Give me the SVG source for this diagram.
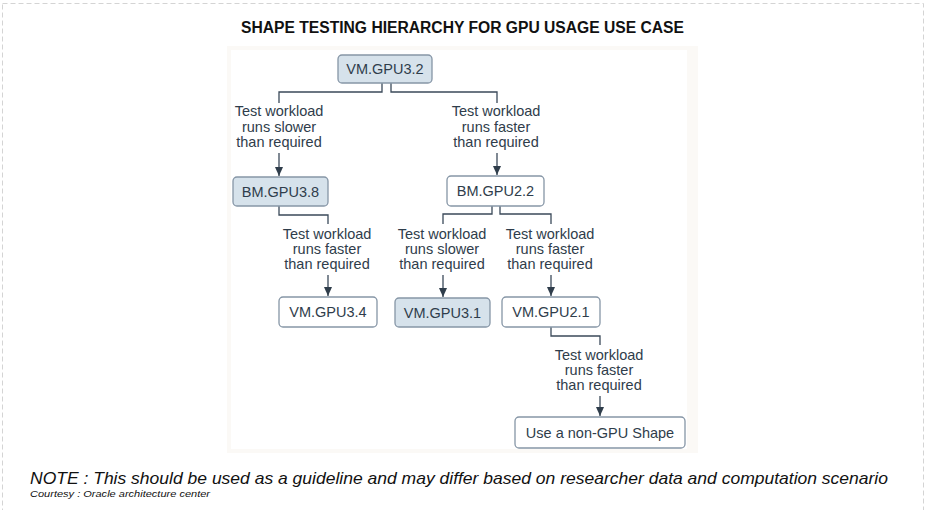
<svg xmlns="http://www.w3.org/2000/svg" width="926" height="510" viewBox="0 0 926 510">
  <style>
    .box { stroke: #8696a6; stroke-width: 1.3; }
    .blue { fill: #d6e2eb; }
    .white { fill: #ffffff; }
    .nt { font-family: "Liberation Sans", Arial, sans-serif; font-size: 14.5px; fill: #2f3d4b; text-anchor: middle; }
    .lbl { font-family: "Liberation Sans", Arial, sans-serif; font-size: 14.5px; fill: #2f3d4b; text-anchor: middle; }
    .conn { fill: none; stroke: #3b4a5a; stroke-width: 1.3; }
  </style>
  <defs>
    <marker id="arr" markerUnits="userSpaceOnUse" markerWidth="10" markerHeight="10" viewBox="0 0 10 10" refX="9" refY="5" orient="auto">
      <path d="M0,1 L9,5 L0,9 Z" fill="#2f3d4b"/>
    </marker>
  </defs>
  <rect x="0" y="0" width="926" height="510" fill="#ffffff"/>
  <rect x="2.5" y="3.5" width="921" height="530" fill="none" stroke="#d4d4d4" stroke-width="1" stroke-dasharray="5,3"/>
  <text x="241" y="33" font-family="'Liberation Sans', Arial, sans-serif" font-size="16" font-weight="bold" fill="#111111" textLength="443" lengthAdjust="spacingAndGlyphs">SHAPE TESTING HIERARCHY FOR GPU USAGE USE CASE</text>
  <rect x="227" y="46" width="471" height="407" fill="#fbf9f6"/>
  <rect x="231" y="50" width="456" height="399" fill="#ffffff"/>

  <g id="connectors">
    <path class="conn" d="M382,83 V92 H279 V103"/>
    <path class="conn" d="M391,83 V92 H497 V103"/>
    <path class="conn" d="M279,153 V176" marker-end="url(#arr)"/>
    <path class="conn" d="M497,153 V175" marker-end="url(#arr)"/>
    <path class="conn" d="M279,206 V215 H328 V224"/>
    <path class="conn" d="M328,275 V296" marker-end="url(#arr)"/>
    <path class="conn" d="M492,206 V214 H443 V224"/>
    <path class="conn" d="M500,206 V214 H551 V224"/>
    <path class="conn" d="M443,275 V297" marker-end="url(#arr)"/>
    <path class="conn" d="M551,275 V296" marker-end="url(#arr)"/>
    <path class="conn" d="M551,327 V336 H600 V345"/>
    <path class="conn" d="M600,396 V416" marker-end="url(#arr)"/>
  </g>

  <g id="labels">
    <text class="lbl" x="279" y="116">Test workload<tspan x="279" dy="15.5">runs slower</tspan><tspan x="279" dy="15.5">than required</tspan></text>
    <text class="lbl" x="496" y="116">Test workload<tspan x="496" dy="15.5">runs faster</tspan><tspan x="496" dy="15.5">than required</tspan></text>
    <text class="lbl" x="327" y="239">Test workload<tspan x="327" dy="15">runs faster</tspan><tspan x="327" dy="15">than required</tspan></text>
    <text class="lbl" x="442" y="239">Test workload<tspan x="442" dy="15">runs slower</tspan><tspan x="442" dy="15">than required</tspan></text>
    <text class="lbl" x="550" y="239">Test workload<tspan x="550" dy="15">runs faster</tspan><tspan x="550" dy="15">than required</tspan></text>
    <text class="lbl" x="599" y="360">Test workload<tspan x="599" dy="15">runs faster</tspan><tspan x="599" dy="15">than required</tspan></text>
  </g>

  <g id="n_vm_gpu3_2">
    <rect class="box blue" x="338" y="55" width="94" height="28" rx="4"/>
    <text class="nt" x="385" y="74">VM.GPU3.2</text>
  </g>
  <g id="n_bm_gpu3_8">
    <rect class="box blue" x="233" y="177" width="95" height="29" rx="4"/>
    <text class="nt" x="280.5" y="196.5">BM.GPU3.8</text>
  </g>
  <g id="n_bm_gpu2_2">
    <rect class="box white" x="447" y="176" width="97" height="30" rx="4"/>
    <text class="nt" x="495.5" y="196">BM.GPU2.2</text>
  </g>
  <g id="n_vm_gpu3_4">
    <rect class="box white" x="279" y="297" width="98" height="30" rx="4"/>
    <text class="nt" x="328" y="317">VM.GPU3.4</text>
  </g>
  <g id="n_vm_gpu3_1">
    <rect class="box blue" x="395" y="298" width="95" height="29" rx="4"/>
    <text class="nt" x="442.5" y="317.5">VM.GPU3.1</text>
  </g>
  <g id="n_vm_gpu2_1">
    <rect class="box white" x="502" y="297" width="98" height="30" rx="4"/>
    <text class="nt" x="551" y="317">VM.GPU2.1</text>
  </g>
  <g id="n_non_gpu">
    <rect class="box white" x="515" y="417" width="170" height="31" rx="4"/>
    <text class="nt" x="600" y="437.5">Use a non-GPU Shape</text>
  </g>

  <text x="30" y="484" font-family="'Liberation Sans', Arial, sans-serif" font-size="17" font-style="italic" fill="#111111" textLength="858" lengthAdjust="spacingAndGlyphs">NOTE : This should be used as a guideline and may differ based on researcher data and computation scenario</text>
  <text x="30" y="497" font-family="'Liberation Sans', Arial, sans-serif" font-size="9" font-style="italic" fill="#111111" textLength="180" lengthAdjust="spacingAndGlyphs">Courtesy : Oracle architecture center</text>
</svg>
